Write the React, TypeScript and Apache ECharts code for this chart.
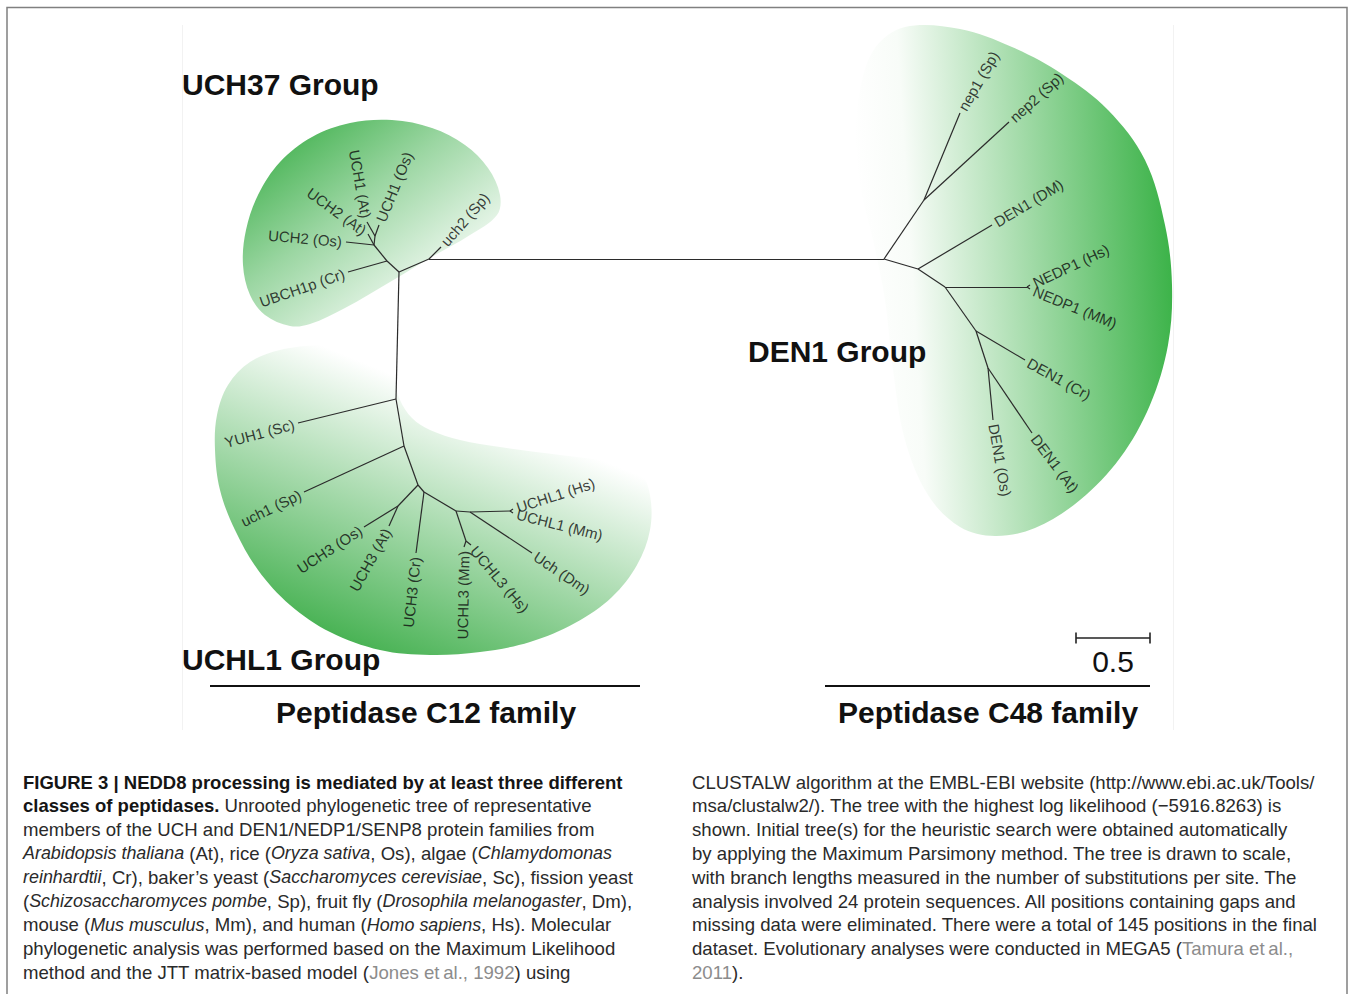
import React, { useEffect, useRef } from 'react';
import * as echarts from 'echarts';

// ---- Tree layout (node positions of the unrooted tree as drawn) ----
const innerNodes: [string, number, number][] = [
  ['A', 399, 272], ['U2', 429, 259], ['G', 387, 261], ['H', 374, 245], ['I', 375, 236],
  ['B', 396, 399], ['C', 404, 446], ['D', 418, 485], ['P', 398, 506], ['D2', 424, 492],
  ['E', 456, 511], ['F', 470, 512], ['Q', 510, 511], ['R', 466, 541],
  ['J', 884, 259], ['K', 924, 200], ['L', 918, 269], ['M', 945, 287], ['S', 1027, 287],
  ['N', 976, 331], ['O', 988, 368],
];

// [label, x, y, label angle (deg), label side relative to tip]
const tips: [string, number, number, number, 'after' | 'before'][] = [
  ['UCH1 (At)', 367, 222, -80, 'before'],
  ['UCH1 (Os)', 379, 225, 68, 'after'],
  ['UCH2 (At)', 368, 234, -36, 'before'],
  ['UCH2 (Os)', 346, 242, -5, 'before'],
  ['UBCH1p (Cr)', 348, 272, 19, 'before'],
  ['uch2 (Sp)', 441, 247, 49, 'after'],
  ['YUH1 (Sc)', 298, 423, 15, 'before'],
  ['uch1 (Sp)', 304, 492, 26, 'before'],
  ['UCH3 (Os)', 364, 527, 33, 'before'],
  ['UCH3 (At)', 389, 526, 61, 'before'],
  ['UCH3 (Cr)', 416, 553, 84, 'before'],
  ['UCHL3 (Mm)', 464, 547, 89, 'before'],
  ['UCHL3 (Hs)', 471, 545, -50, 'after'],
  ['Uch (Dm)', 532, 553, -34, 'after'],
  ['UCHL1 (Hs)', 513, 509, 18, 'after'],
  ['UCHL1 (Mm)', 513, 513, -14, 'after'],
  ['nep1 (Sp)', 960, 113, 60, 'after'],
  ['nep2 (Sp)', 1009, 122, 42, 'after'],
  ['DEN1 (DM)', 992, 225, 31, 'after'],
  ['NEDP1 (Hs)', 1030, 285, 25, 'after'],
  ['NEDP1 (MM)', 1030, 289, -22, 'after'],
  ['DEN1 (Cr)', 1025, 360, -29, 'after'],
  ['DEN1 (At)', 1032, 433, -53, 'after'],
  ['DEN1 (Os)', 993, 420, -80, 'after'],
];

const edges: [string, string][] = [
  ['A', 'U2'], ['U2', 'uch2 (Sp)'], ['U2', 'J'],
  ['A', 'G'], ['G', 'UBCH1p (Cr)'], ['G', 'H'], ['H', 'UCH2 (Os)'], ['H', 'UCH2 (At)'],
  ['H', 'I'], ['I', 'UCH1 (At)'], ['I', 'UCH1 (Os)'],
  ['A', 'B'], ['B', 'YUH1 (Sc)'], ['B', 'C'], ['C', 'uch1 (Sp)'], ['C', 'D'],
  ['D', 'P'], ['P', 'UCH3 (Os)'], ['P', 'UCH3 (At)'], ['D', 'D2'], ['D2', 'UCH3 (Cr)'],
  ['D2', 'E'], ['E', 'R'], ['R', 'UCHL3 (Mm)'], ['R', 'UCHL3 (Hs)'], ['E', 'F'],
  ['F', 'Q'], ['Q', 'UCHL1 (Hs)'], ['Q', 'UCHL1 (Mm)'], ['F', 'Uch (Dm)'],
  ['J', 'K'], ['K', 'nep1 (Sp)'], ['K', 'nep2 (Sp)'], ['J', 'L'], ['L', 'DEN1 (DM)'],
  ['L', 'M'], ['M', 'S'], ['S', 'NEDP1 (Hs)'], ['S', 'NEDP1 (MM)'], ['M', 'N'],
  ['N', 'DEN1 (Cr)'], ['N', 'O'], ['O', 'DEN1 (Os)'], ['O', 'DEN1 (At)'],
];

const groupTitles = ['UCH37 Group', 'UCHL1 Group', 'DEN1 Group'];
const familyTitles = ['Peptidase C12 family', 'Peptidase C48 family'];
const scaleBarLabel = '0.5';

type Seg = [string, string];
const captionLeft: Seg[][] = [
  [['b', 'FIGURE 3 | NEDD8 processing is mediated by at least three different']],
  [['b', 'classes of peptidases.'], ['r', ' Unrooted phylogenetic tree of representative']],
  [['r', 'members of the UCH and DEN1/NEDP1/SENP8 protein families from']],
  [['i', 'Arabidopsis thaliana'], ['r', ' (At), rice ('], ['i', 'Oryza sativa'], ['r', ', Os), algae ('], ['i', 'Chlamydomonas']],
  [['i', 'reinhardtii'], ['r', ', Cr), baker\u2019s yeast ('], ['i', 'Saccharomyces cerevisiae'], ['r', ', Sc), fission yeast']],
  [['r', '('], ['i', 'Schizosaccharomyces pombe'], ['r', ', Sp), fruit fly ('], ['i', 'Drosophila melanogaster'], ['r', ', Dm),']],
  [['r', 'mouse ('], ['i', 'Mus musculus'], ['r', ', Mm), and human ('], ['i', 'Homo sapiens'], ['r', ', Hs). Molecular']],
  [['r', 'phylogenetic analysis was performed based on the Maximum Likelihood']],
  [['r', 'method and the JTT matrix-based model ('], ['g', 'Jones et\u2009al., 1992'], ['r', ') using']],
];
const captionRight: Seg[][] = [
  [['r', 'CLUSTALW algorithm at the EMBL-EBI website (http://www.ebi.ac.uk/Tools/']],
  [['r', 'msa/clustalw2/). The tree with the highest log likelihood (\u22125916.8263) is']],
  [['r', 'shown. Initial tree(s) for the heuristic search were obtained automatically']],
  [['r', 'by applying the Maximum Parsimony method. The tree is drawn to scale,']],
  [['r', 'with branch lengths measured in the number of substitutions per site. The']],
  [['r', 'analysis involved 24 protein sequences. All positions containing gaps and']],
  [['r', 'missing data were eliminated. There were a total of 145 positions in the final']],
  [['r', 'dataset. Evolutionary analyses were conducted in MEGA5 ('], ['g', 'Tamura et\u2009al.,']],
  [['g', '2011'], ['r', ').']],
];

const FONT = '"Liberation Sans", Arial, Helvetica, sans-serif';

export default function App() {
  const ref = useRef<HTMLDivElement>(null);

  useEffect(() => {
    document.body.style.margin = '0';
    if (!ref.current) return;
    const chart = echarts.init(ref.current, undefined, { renderer: 'svg' });

    const pos: Record<string, [number, number]> = {};
    innerNodes.forEach(([n, x, y]) => (pos[n] = [x, y]));
    tips.forEach(([n, x, y]) => (pos[n] = [x, y]));

    const pad = 4;
    const tipData = tips.map(([name, x, y, ang, side]) => {
      const r = (ang * Math.PI) / 180;
      const s = side === 'after' ? 1 : -1;
      return {
        name,
        value: [x + s * pad * Math.cos(r), y - s * pad * Math.sin(r)],
        label: { rotate: ang, align: side === 'after' ? 'left' : 'right' },
      };
    });

    const lg = (x0: number, y0: number, x1: number, y1: number, stops: [number, string][]) =>
      new echarts.graphic.LinearGradient(x0, y0, x1, y1, stops.map(([offset, color]) => ({ offset, color })));

    const blob = (points: number[][], fill: any) => ({
      type: 'polygon',
      z: 0,
      silent: true,
      shape: { points, smooth: 0.35 },
      style: { fill },
    });

    const RS = 18.6;
    const RICH = {
      r: { fontFamily: FONT, fontSize: RS, fill: '#2a2a2a' },
      i: { fontFamily: FONT, fontSize: 17.9, fontStyle: 'italic', fill: '#2a2a2a' },
      b: { fontFamily: FONT, fontSize: 18.5, fontWeight: 'bold', fill: '#151515' },
      g: { fontFamily: FONT, fontSize: RS, fill: '#8c8c8c' },
    };
    const capLine = (segs: Seg[], x: number, y: number) => ({
      type: 'text',
      z: 5,
      x,
      y,
      style: {
        text: segs.map(([k, t]) => `{${k}|${t}}`).join(''),
        rich: RICH,
        font: `${RS}px ${FONT}`,
        align: 'left',
        textAlign: 'left',
        verticalAlign: 'middle',
        textVerticalAlign: 'middle',
      },
    });

    const title = (text: string, x: number, y: number, size: number, align: string, weight = 'bold') => ({
      type: 'text',
      z: 5,
      x,
      y,
      style: {
        text,
        font: `${weight} ${size}px ${FONT}`,
        fill: '#111',
        align,
        textAlign: align,
        verticalAlign: 'middle',
        textVerticalAlign: 'middle',
      },
    });

    const hline = (x1: number, y1: number, x2: number, y2: number, color: string, w: number) => ({
      type: 'line',
      z: 4,
      silent: true,
      shape: { x1, y1, x2, y2 },
      style: { stroke: color, lineWidth: w },
    });

    const lineH = 23.8;
    const graphics: any[] = [
      // frame
      { type: 'rect', z: 0, shape: { x: 7, y: 7.5, width: 1340, height: 1000 }, style: { fill: 'none', stroke: '#808080', lineWidth: 1.5 } },
      hline(182.5, 25, 182.5, 730, '#f2f2f2', 1),
      hline(1173.5, 25, 1173.5, 730, '#f2f2f2', 1),
      // green group backgrounds
      blob(
        [[290, 326], [265, 315], [250, 295], [243, 265], [246, 230], [258, 195], [280, 162], [312, 137], [350, 123], [392, 120], [432, 128], [465, 145], [488, 168], [500, 195], [497, 215], [470, 235], [430, 258], [390, 282], [345, 308], [310, 324]],
        lg(0.05, 0.1, 0.8, 0.88, [[0, '#3daf4a'], [0.45, '#9bd6a2'], [1, '#ffffff']])
      ),
      blob(
        [[395, 352], [360, 345], [320, 345], [280, 350], [250, 362], [228, 385], [217, 415], [215, 450], [220, 490], [235, 530], [258, 570], [290, 605], [330, 632], [380, 650], [430, 655], [480, 652], [530, 642], [575, 623], [612, 597], [637, 565], [650, 530], [650, 495], [640, 473], [610, 462], [560, 455], [500, 447], [460, 440], [430, 430], [412, 418], [400, 400], [395, 380]],
        lg(0.2, 0.95, 0.62, 0.22, [[0, '#3eae4a'], [1, '#ffffff']])
      ),
      blob(
        [[905, 27], [875, 48], [860, 90], [856, 140], [861, 190], [873, 240], [885, 300], [893, 370], [905, 440], [928, 495], [960, 527], [995, 536], [1035, 528], [1080, 500], [1120, 458], [1150, 405], [1168, 345], [1172, 285], [1165, 225], [1145, 160], [1108, 110], [1062, 74], [1012, 47], [960, 29]],
        lg(0.02, 0.5, 1, 0.4, [[0, '#ffffff'], [0.16, '#f8fcf8'], [1, '#3ab247']])
      ),
      // titles
      title(groupTitles[0], 182, 84, 30, 'left'),
      title(groupTitles[1], 182, 659, 30, 'left'),
      title(groupTitles[2], 748, 351, 30, 'left'),
      title(familyTitles[0], 426, 712, 30, 'center'),
      title(familyTitles[1], 988, 712, 30, 'center'),
      hline(210, 686, 640, 686, '#111', 2),
      hline(825, 686, 1150, 686, '#111', 2),
      // scale bar
      hline(1076, 638, 1150, 638, '#222', 1.6),
      hline(1076, 632.5, 1076, 643.5, '#222', 1.6),
      hline(1150, 632.5, 1150, 643.5, '#222', 1.6),
      title(scaleBarLabel, 1113, 661, 30, 'center', 'normal'),
      ...captionLeft.map((segs, i) => capLine(segs, 23, 782 + i * lineH)),
      ...captionRight.map((segs, i) => capLine(segs, 692, 782 + i * lineH)),
    ];

    chart.setOption({
      animation: false,
      backgroundColor: '#ffffff',
      grid: { left: 0, right: 0, top: 0, bottom: 0 },
      xAxis: { type: 'value', min: 0, max: 1350, show: false },
      yAxis: { type: 'value', min: 0, max: 994, inverse: true, show: false },
      graphic: { elements: graphics },
      series: [
        {
          type: 'lines',
          coordinateSystem: 'cartesian2d',
          silent: true,
          z: 3,
          lineStyle: { color: '#2b2b2b', width: 1.2, opacity: 1, curveness: 0 },
          data: edges.map(([a, b]) => ({ coords: [pos[a], pos[b]] })),
        },
        {
          type: 'scatter',
          silent: true,
          z: 4,
          symbolSize: 1,
          itemStyle: { color: 'rgba(0,0,0,0)' },
          label: {
            show: true,
            position: 'inside',
            formatter: '{b}',
            color: '#0d0d0d',
            fontFamily: FONT,
            fontSize: 15,
            verticalAlign: 'middle',
          },
          data: tipData,
        },
      ],
    });

    return () => chart.dispose();
  }, []);

  return <div ref={ref} style={{ width: 1350, height: 994 }} />;
}
